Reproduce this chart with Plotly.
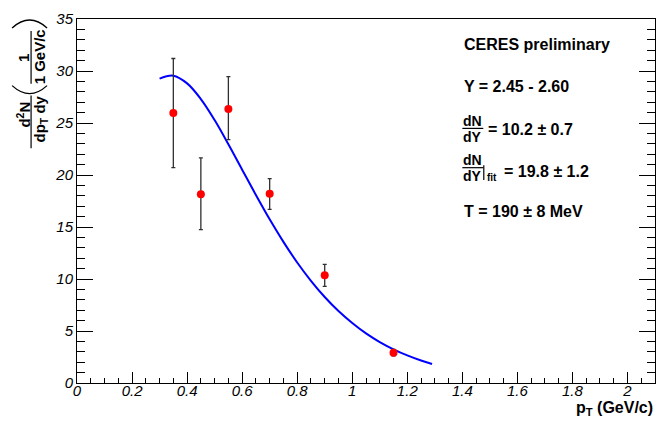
import plotly.graph_objects as go

# ---- data ----
pt = [0.35, 0.45, 0.55, 0.70, 0.90, 1.15]
yield_vals = [25.95, 18.15, 26.35, 18.2, 10.35, 2.92]
err_up = [5.25, 3.5, 3.1, 1.45, 1.05, 0.3]
err_down = [5.25, 3.4, 2.95, 1.5, 1.05, 0.3]

fit_pt = [0.30, 0.35, 0.40, 0.45, 0.50, 0.55, 0.60, 0.65, 0.70, 0.75, 0.80,
          0.85, 0.90, 0.95, 1.00, 1.05, 1.10, 1.15, 1.20, 1.25, 1.29]
fit_vals = [29.27, 29.55, 28.81, 27.30, 25.28, 22.95, 20.51, 18.08, 15.74, 13.57,
            11.59, 9.83, 8.27, 6.92, 5.77, 4.77, 3.94, 3.24, 2.65, 2.16, 1.83]

FONT = "Liberation Sans, Arial, Helvetica, sans-serif"

# plot-area pixel frame (for placing decorations in the margins)
L, R, T, B = 77, 656, 17, 383


def px(x):
    return (x - L) / (R - L)


def py(y):
    return (B - y) / (B - T)


fig = go.Figure()

fig.add_trace(go.Scatter(
    x=fit_pt, y=fit_vals, mode="lines",
    line=dict(color="#0000ff", width=2, shape="spline", smoothing=1.0),
    showlegend=False, hoverinfo="skip"))

fig.add_trace(go.Scatter(
    x=pt, y=yield_vals, mode="markers",
    marker=dict(color="#ff0000", size=8),
    error_y=dict(type="data", symmetric=False, array=err_up, arrayminus=err_down,
                 color="#303030", thickness=1.3, width=2),
    showlegend=False))

annotations = []
shapes = []


def txt(text, x, y, size=16, xanchor="left", angle=0):
    annotations.append(dict(
        text=text, x=px(x), y=py(y), xref="paper", yref="paper",
        xanchor=xanchor, yanchor="middle", showarrow=False, textangle=angle,
        font=dict(family=FONT, size=size, color="black")))


def hline(x0, x1, y, w=1.2):
    shapes.append(dict(type="line", xref="paper", yref="paper",
                       x0=px(x0), x1=px(x1), y0=py(y), y1=py(y),
                       line=dict(color="black", width=w)))


def vline(x, y0, y1, w=1.2):
    shapes.append(dict(type="line", xref="paper", yref="paper",
                       x0=px(x), x1=px(x), y0=py(y0), y1=py(y1),
                       line=dict(color="black", width=w)))


def arc(x0, x1, y_end, y_apex):
    xc = (x0 + x1) / 2
    yc = 2 * y_apex - y_end
    path = "M {:.5f},{:.5f} Q {:.5f},{:.5f} {:.5f},{:.5f}".format(
        px(x0), py(y_end), px(xc), py(yc), px(x1), py(y_end))
    shapes.append(dict(type="path", xref="paper", yref="paper", path=path,
                       line=dict(color="black", width=1.3)))


# ---- right-hand text block ----
txt("<b>CERES preliminary</b>", 463, 43)
txt("<b>Y = 2.45 - 2.60</b>", 463, 85)

txt("<b>dN</b>", 473.5, 119.5, size=14, xanchor="center")
hline(463, 484, 127)
txt("<b>dY</b>", 473.5, 135.5, size=14, xanchor="center")
txt("<b>= 10.2 ± 0.7</b>", 487, 128)

txt("<b>dN</b>", 473.5, 159, size=14, xanchor="center")
hline(463, 484, 166.5)
txt("<b>dY</b>", 473.5, 175, size=14, xanchor="center")
vline(484.5, 164, 179)
txt("<b>fit</b>", 486, 176.5, size=10)
txt("<b>= 19.8 ± 1.2</b>", 503, 170)

txt("<b>T = 190 ± 8 MeV</b>", 463, 211)

# ---- x axis title ----
txt("<b>p<sub>T</sub> (GeV/c)</b>", 656, 409, size=16, xanchor="right")

# ---- y axis title (rotated, built from pieces) ----
txt("<b>d<sup>2</sup>N</b>", 23, 113, size=15, xanchor="center", angle=-90)
vline(31, 94, 147)
txt("<b>dp<sub>T</sub> dy</b>", 40, 118, size=15, xanchor="center", angle=-90)
arc(12, 47, 84, 92)
txt("<b>1</b>", 24, 56, size=15, xanchor="center", angle=-90)
vline(31, 29, 82)
txt("<b>1 GeV/c</b>", 39.5, 55, size=15, xanchor="center", angle=-90)
arc(12, 47, 26, 18)

fig.update_layout(
    width=666, height=426,
    margin=dict(l=L, r=666 - R, t=T, b=426 - B),
    paper_bgcolor="white", plot_bgcolor="white",
    font=dict(family=FONT, color="black"),
    annotations=annotations, shapes=shapes,
    showlegend=False,
)

fig.update_xaxes(
    range=[0, 2.1], tick0=0, dtick=0.2, ticks="inside", ticklen=11,
    tickwidth=1, tickcolor="black", showline=True, linecolor="black",
    linewidth=1, mirror=True, showgrid=False, zeroline=False,
    ticklabelstandoff=-6,
    tickfont=dict(family=FONT, size=15, style="italic", color="black"),
    minor=dict(ticks="inside", ticklen=5.5, dtick=0.05, tickcolor="black",
               tickwidth=1, showgrid=False),
)
fig.update_yaxes(
    range=[0, 35], tick0=0, dtick=5, ticks="inside", ticklen=16,
    tickwidth=1, tickcolor="black", showline=True, linecolor="black",
    linewidth=1, mirror="ticks", showgrid=False, zeroline=False,
    tickfont=dict(family=FONT, size=15, style="italic", color="black"),
    minor=dict(ticks="inside", ticklen=8, dtick=1, tickcolor="black",
               tickwidth=1, showgrid=False),
)

fig.write_html("out.html", config={"displayModeBar": False})
